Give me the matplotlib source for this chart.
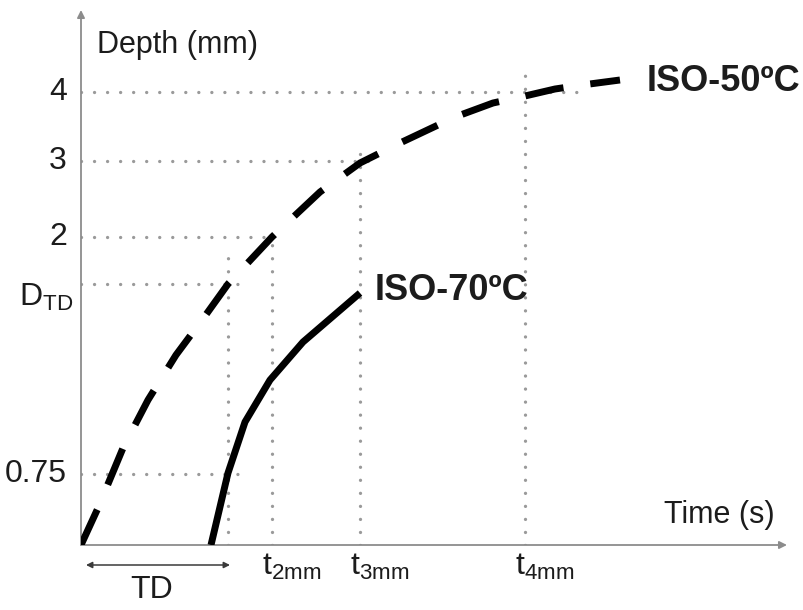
import matplotlib.pyplot as plt

plt.rcParams['font.family'] = ['Liberation Sans', 'DejaVu Sans']
plt.rcParams['mathtext.default'] = 'regular'

# schematic units (no real scale on either axis)
iso50_t = [0.0, 0.17, 0.42, 0.67, 0.95, 1.24, 1.47, 1.91, 2.39, 2.79, 3.19, 3.74, 4.12, 4.44, 4.74, 5.01, 5.39]
iso50_d = [0.0, 0.37, 0.97, 1.45, 1.90, 2.29, 2.61, 3.08, 3.53, 3.82, 4.02, 4.28, 4.42, 4.49, 4.56, 4.60, 4.65]

iso70_t = [1.30, 1.47, 1.64, 1.89, 2.22, 2.79]
iso70_d = [0.0, 0.72, 1.23, 1.65, 2.03, 2.52]

depth_marks = [4.53, 3.84, 3.08, 2.61, 0.71]
depth_labels = ['4', '3', '2', r'$D_{TD}$', '0.75']
hline_ends = [4.99, 2.99, 1.94, 1.59, 1.61]

time_marks = [1.47, 1.91, 2.79, 4.44]
time_labels = ['', r'$t_{2mm}$', r'$t_{3mm}$', r'$t_{4mm}$']
vline_tops = [2.90, 3.08, 3.99, 4.73]

curve_labels = ['ISO-50ºC', 'ISO-70ºC']

AX = '#8c8c8c'
DOT = '#9a9a9a'
INK = '#1c1c1c'

fig = plt.figure(figsize=(8.04, 6.10), dpi=100)
ax = fig.add_axes([81 / 804, 65 / 610, 706 / 804, 535 / 610])
ax.set_xlim(0, 7.06)
ax.set_ylim(0, 5.35)
ax.axis('off')

# axes with arrow heads
arrow = dict(arrowstyle='-|>', color=AX, lw=1.3, mutation_scale=11, shrinkA=0, shrinkB=0)
ax.annotate('', xy=(1, 0), xytext=(0, 0), xycoords='axes fraction', arrowprops=arrow)
ax.annotate('', xy=(0, 1), xytext=(0, 0), xycoords='axes fraction', arrowprops=arrow)

dots = dict(color=DOT, lw=2.4, linestyle=(0, (0.01, 3.9)), dash_capstyle='round', zorder=1)
for y, x1 in zip(depth_marks, hline_ends):
    ax.plot([0, x1], [y, y], **dots)
for x, y1 in zip(time_marks, vline_tops):
    ax.plot([x, x], [0, y1], **dots)

# curves
ax.plot(iso50_t, iso50_d, color='black', lw=5, dashes=(5.6, 3.9), dash_capstyle='butt', zorder=3)
ax.plot(iso70_t, iso70_d, color='black', lw=5, solid_capstyle='butt', zorder=3)

ax.text(5.66, iso50_d[-1] - 0.02, curve_labels[0], fontsize=26, fontweight='bold', color=INK, va='center')
ax.text(2.94, iso70_d[-1] + 0.03, curve_labels[1], fontsize=26, fontweight='bold', color=INK, va='center')

# depth labels
for y, lab in zip(depth_marks, depth_labels):
    if 'D' in lab:
        ax.text(-0.08, y + 0.02, lab, fontsize=23, color=INK, ha='right', va='top', clip_on=False)
    else:
        ax.text(-0.14, y, lab, fontsize=23, color=INK, ha='right', va='center', clip_on=False)

# time labels
for x, lab in zip(time_marks, time_labels):
    if lab:
        ax.text(x - 0.1, -0.07, lab, fontsize=23, color=INK, ha='left', va='top', clip_on=False)

ax.text(0.16, 5.0, 'Depth (mm)', fontsize=22, color=INK, va='center')
ax.text(6.94, 0.30, 'Time (s)', fontsize=22, color=INK, ha='right', va='center')

# TD span under the axis
ax.annotate('', xy=(time_marks[0] + 0.02, -0.20), xytext=(0.05, -0.20), xycoords='data',
            arrowprops=dict(arrowstyle='<|-|>', color='#3a3a3a', lw=1.1, mutation_scale=9,
                            shrinkA=0, shrinkB=0), annotation_clip=False)
ax.text(0.71, -0.45, 'TD', fontsize=23, color=INK, ha='center', va='center', clip_on=False)

fig.savefig('out.png', dpi=100, facecolor='white')
